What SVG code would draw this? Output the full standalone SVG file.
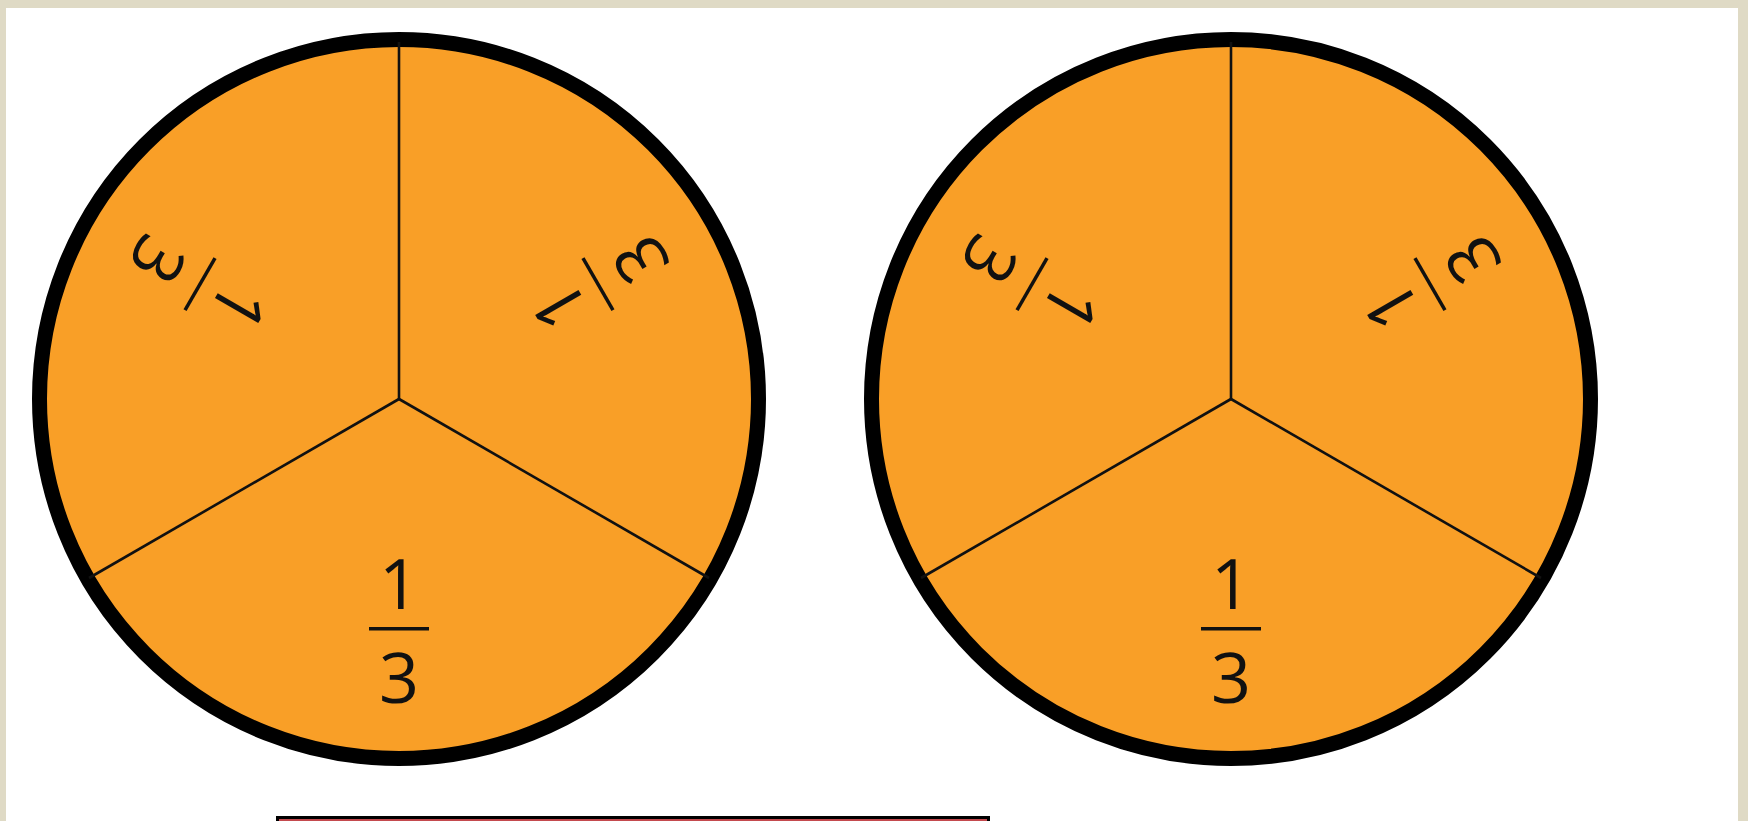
<svg xmlns="http://www.w3.org/2000/svg" width="1748" height="821" viewBox="0 0 1748 821">
  <style>
    .disc { fill: #F99F27; stroke: #000; stroke-width: 15; }
    .spoke { stroke: #111; stroke-width: 2.6; fill: none; }
    .num { font-family: "Open Sans", "Noto Sans", "Liberation Sans", sans-serif; font-size: 70px; fill: #111; text-anchor: middle; }
    .bar { fill: #111; }
  </style>
  <defs>
    <g id="frac">
      <text class="num" x="399" y="609">1</text>
      <rect class="bar" x="369" y="627" width="60" height="3.5"/>
      <text class="num" x="399" y="703">3</text>
    </g>
  </defs>
  <rect x="0" y="0" width="1748" height="821" fill="#DFDAC5"/>
  <rect x="6" y="8" width="1732" height="813" fill="#FFFFFF"/>

  <g id="pie-left">
    <circle class="disc" cx="399" cy="399" r="359.5"/>
    <line class="spoke" x1="399" y1="399" x2="399" y2="42"/>
    <line class="spoke" x1="399" y1="399" x2="89" y2="578"/>
    <line class="spoke" x1="399" y1="399" x2="709" y2="578"/>
    <use href="#frac"/>
    <use href="#frac" transform="rotate(120 399 399)"/>
    <use href="#frac" transform="rotate(-120 399 399)"/>
  </g>

  <g id="pie-right" transform="translate(832 0)">
    <circle class="disc" cx="399" cy="399" r="359.5"/>
    <line class="spoke" x1="399" y1="399" x2="399" y2="42"/>
    <line class="spoke" x1="399" y1="399" x2="89" y2="578"/>
    <line class="spoke" x1="399" y1="399" x2="709" y2="578"/>
    <use href="#frac"/>
    <use href="#frac" transform="rotate(120 399 399)"/>
    <use href="#frac" transform="rotate(-120 399 399)"/>
  </g>

  <g id="bottom-bar">
    <rect x="277.5" y="817.5" width="711" height="12" fill="#C44A4E" stroke="#000" stroke-width="3"/>
  </g>
  <g id="connectors"/>
</svg>
